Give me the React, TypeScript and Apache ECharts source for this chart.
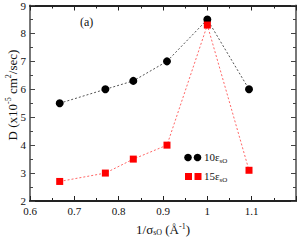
import React, { useEffect, useRef } from "react";
import * as echarts from "echarts";

const xValues = [0.667, 0.77, 0.833, 0.909, 1.0, 1.094];
const series10 = [5.5, 6.0, 6.3, 7.0, 8.5, 6.0];
const series15 = [2.7, 3.0, 3.5, 4.0, 8.3, 3.1];
const xTicks = ["0.6", "0.7", "0.8", "0.9", "1", "1.1"];

const FONT = "Liberation Serif";

export default function App() {
  const ref = useRef<HTMLDivElement>(null);
  useEffect(() => {
    const chart = echarts.init(ref.current!, undefined, { renderer: "svg" });
    const tick = (c: string) => ({
      axisTick: { inside: true, length: 5, lineStyle: { color: c, width: 1 } },
      minorTick: { show: true, splitNumber: 2, length: 3, lineStyle: { color: c } },
      splitLine: { show: false },
    });
    const xCommon = { type: "value" as const, min: 0.6, max: 1.2, interval: 0.1, ...tick("#222") };
    const yCommon = { type: "value" as const, min: 2, max: 9, interval: 1, ...tick("#444") };
    const legendText = (t: string, y: number) => ({
      type: "text",
      x: 204,
      y,
      style: {
        text: t + "{sub|sO}",
        fontFamily: FONT,
        fontSize: 11,
        fill: "#111",
        rich: { sub: { fontSize: 7, padding: [7, 0, 0, 0], fontFamily: FONT, fill: "#111" } },
      },
    });
    chart.setOption({
      animation: false,
      grid: { left: 30, right: 3, top: 5, bottom: 36, containLabel: false },
      xAxis: [
        {
          ...xCommon,
          position: "bottom",
          axisLine: { lineStyle: { color: "#222", width: 2 } },
          axisLabel: {
            color: "#111",
            fontFamily: FONT,
            fontSize: 11,
            margin: 4,
            formatter: (v: number) => {
              const s = String(Math.round(v * 10) / 10);
              return xTicks.includes(s) ? s : "";
            },
          },
          name: "1/σ{sub|sO} (Å{sup|-1})",
          nameLocation: "middle",
          nameGap: 21,
          nameTextStyle: {
            color: "#111",
            fontFamily: FONT,
            fontSize: 13,
            rich: {
              sub: { fontSize: 8, verticalAlign: "bottom", padding: [6, 0, 0, 0], fontFamily: FONT, color: "#111" },
              sup: { fontSize: 8, verticalAlign: "top", padding: [0, 0, 6, 0], fontFamily: FONT, color: "#111" },
            },
          },
        },
        { ...xCommon, position: "top", axisLine: { lineStyle: { color: "#222", width: 2 } }, axisLabel: { show: false } },
      ],
      yAxis: [
        {
          ...yCommon,
          position: "left",
          axisLine: { lineStyle: { color: "#777", width: 2 } },
          axisLabel: { color: "#111", fontFamily: FONT, fontSize: 11, margin: 4 },
        },
        { ...yCommon, position: "right", axisLine: { lineStyle: { color: "#777", width: 2 } }, axisLabel: { show: false } },
      ],
      series: [
        {
          type: "line",
          data: xValues.map((x, i) => [x, series10[i]]),
          symbol: "circle",
          symbolSize: 8,
          itemStyle: { color: "#000" },
          lineStyle: { color: "#555", width: 1, type: [2, 2] },
          z: 3,
        },
        {
          type: "line",
          data: xValues.map((x, i) => [x, series15[i]]),
          symbol: "rect",
          symbolSize: 7,
          itemStyle: { color: "#ff0000" },
          lineStyle: { color: "#ff6666", width: 1, type: [2, 2] },
          z: 4,
        },
      ],
      graphic: [
        {
          type: "text",
          x: 12,
          y: 95,
          rotation: Math.PI / 2,
          style: {
            text: "D (x10{sup|-5} cm{sup|2}/sec)",
            fontFamily: FONT,
            fontSize: 13,
            fill: "#111",
            align: "center",
            verticalAlign: "middle",
            rich: { sup: { fontSize: 8, padding: [0, 0, 7, 0], fontFamily: FONT, fill: "#111" } },
          },
        },
        { type: "text", x: 80, y: 16, style: { text: "(a)", fontFamily: FONT, fontSize: 12, fill: "#111" } },
        { type: "circle", shape: { cx: 188, cy: 157.5, r: 3.8 }, style: { fill: "#000" } },
        { type: "circle", shape: { cx: 197.5, cy: 157.5, r: 3.8 }, style: { fill: "#000" } },
        { type: "rect", shape: { x: 185, y: 173, width: 7, height: 7 }, style: { fill: "#ff0000" } },
        { type: "rect", shape: { x: 194.5, y: 173, width: 7, height: 7 }, style: { fill: "#ff0000" } },
        legendText("10ε", 150),
        legendText("15ε", 169),
      ],
    });
    return () => chart.dispose();
  }, []);
  return <div ref={ref} style={{ position: "absolute", left: 0, top: 0, width: 299, height: 241 }} />;
}
